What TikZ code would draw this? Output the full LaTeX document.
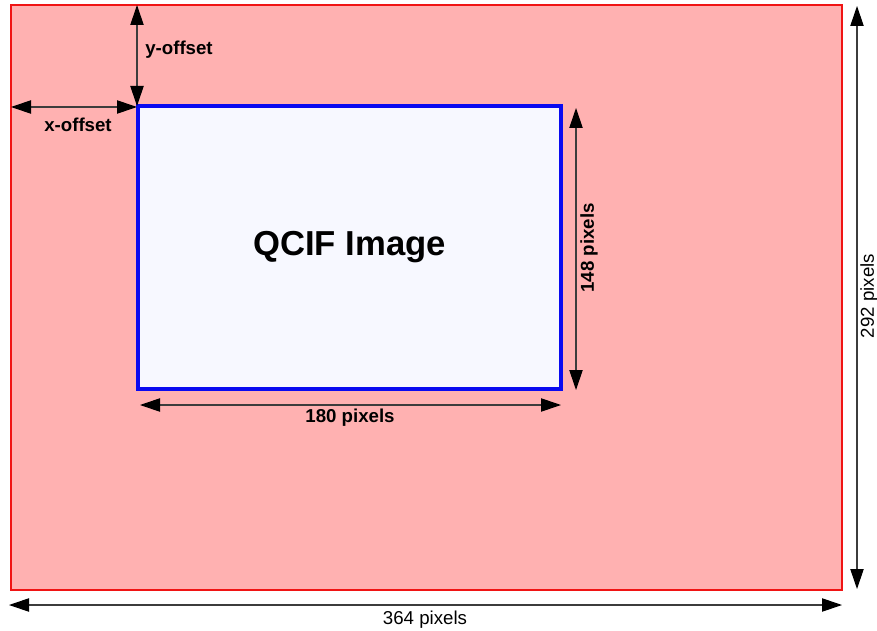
\documentclass[tikz,border=0pt]{standalone}
\usepackage{fontspec}
\setmainfont{Liberation Sans}
\usetikzlibrary{arrows.meta}
\definecolor{outerfill}{RGB}{255,177,177}
\definecolor{outerline}{RGB}{240,20,20}
\definecolor{innerfill}{RGB}{247,248,255}
\definecolor{innerline}{RGB}{10,10,240}
\definecolor{arrowline}{RGB}{60,60,60}
\tikzset{
  outerbox/.style={draw=outerline, fill=outerfill, line width=1.5pt, inner sep=0pt, outer sep=0pt},
  innerbox/.style={draw=innerline, fill=innerfill, line width=2.3pt, inner sep=0pt, outer sep=0pt},
  dimarrow/.style={draw=arrowline, line width=0.8pt,
     {Triangle[length=15pt,width=10pt,color=black]}-{Triangle[length=15pt,width=10pt,color=black]}},
  boldlabel/.style={font=\fontsize{14}{16}\selectfont\bfseries, inner sep=0pt},
  plainlabel/.style={font=\fontsize{14}{16}\selectfont, inner sep=0pt},
}
\begin{document}
\begin{tikzpicture}[x=0.75pt,y=-0.75pt]
\useasboundingbox (0,0) rectangle (877,631);
% outer frame
\node[outerbox, minimum width=623.25pt, minimum height=438.75pt] (outer) at (426.5,297.5) {};
% inner image
\node[innerbox, minimum width=317.25pt, minimum height=212.25pt,
      font=\fontsize{26}{30}\selectfont\bfseries] (img) at (349.5,247.5) {QCIF Image};
% arrow end points
\coordinate (yo1) at (137,5);
\coordinate (yo2) at (137,106);
\coordinate (xo1) at (11,107);
\coordinate (xo2) at (137,107);
\coordinate (h1) at (576,108);
\coordinate (h2) at (576,390);
\coordinate (w1) at (140,405);
\coordinate (w2) at (561,405);
\coordinate (H1) at (857,6);
\coordinate (H2) at (857,589);
\coordinate (W1) at (9,605);
\coordinate (W2) at (842,605);
% arrows
\draw[dimarrow] (yo1) -- (yo2);
\draw[dimarrow] (xo1) -- (xo2);
\draw[dimarrow] (h1) -- (h2);
\draw[dimarrow] (w1) -- (w2);
\draw[dimarrow] (H1) -- (H2);
\draw[dimarrow] (W1) -- (W2);
% labels
\node[boldlabel] (ylab) at (179,50) {y-offset};
\node[boldlabel] (xlab) at (78,125) {x-offset};
\node[boldlabel] (wlab) at (350,418) {180 pixels};
\node[boldlabel, rotate=90] (hlab) at (589,248) {148 pixels};
\node[plainlabel, rotate=90] (Hlab) at (869,296) {292 pixels};
\node[plainlabel] (Wlab) at (425,620) {364 pixels};
\end{tikzpicture}
\end{document}
